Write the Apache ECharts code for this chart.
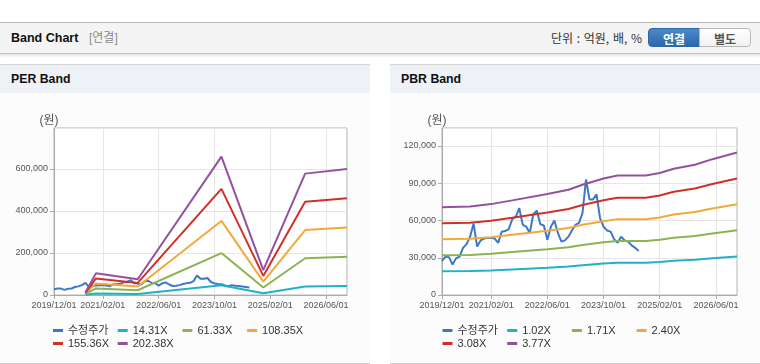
<!DOCTYPE html>
<html>
<head>
<meta charset="utf-8">
<script src="https://cdn.jsdelivr.net/npm/echarts@6/dist/echarts.min.js"></script>
<style>
  html,body{margin:0;padding:0;}
  body{width:760px;height:364px;position:relative;background:#fff;overflow:hidden;font-family:'Liberation Sans','Noto Sans CJK KR',sans-serif;}
  .abs{position:absolute;}
  #top{left:0;top:22px;width:760px;height:30px;background:#f4f4f4;border-top:1px solid #b9b9b9;border-bottom:1px solid #c2c2c2;box-shadow:0 2px 2px rgba(0,0,0,0.10);}
  .panel{top:64px;width:370px;height:298px;background:#fcfcfc;border-top:1px solid #d6d6d6;border-bottom:1px solid #cfcfcf;}
  .ph{position:absolute;left:0;top:0;width:100%;height:28px;background:#eef2f7;}
  .pt{position:absolute;left:11px;top:0;line-height:28px;font-weight:bold;font-size:12.3px;color:#111;}
  .btn{top:5px;height:19px;line-height:19px;text-align:center;font-size:12px;font-weight:bold;box-sizing:border-box;font-family:'Noto Sans CJK KR',sans-serif;}
  #chart{position:absolute;left:0;top:0;width:760px;height:364px;}
</style>
</head>
<body>
<div id="top" class="abs">
  <span class="abs" style="left:11px;top:0;line-height:30px;font-weight:bold;font-size:12.5px;color:#111;">Band Chart</span>
  <span class="abs" style="left:89px;top:0;line-height:30px;font-size:12px;color:#8a8a8a;">[연결]</span>
  <span class="abs" style="right:118px;top:0;line-height:30px;font-size:12px;color:#333;font-family:'Noto Sans CJK KR',sans-serif;word-spacing:1px;">단위 : 억원, 배, %</span>
  <div class="abs btn" style="left:648px;width:52px;color:#fff;background:linear-gradient(#4a89c9,#2d69ad);border:1px solid #2d66a6;border-radius:4px 0 0 4px;">연결</div>
  <div class="abs btn" style="left:699px;width:52px;color:#555;background:linear-gradient(#ffffff,#f1f1f1);border:1px solid #b8b8b8;border-radius:0 4px 4px 0;">별도</div>
</div>
<div class="abs panel" style="left:0;"><div class="ph"><span class="pt">PER Band</span></div></div>
<div class="abs panel" style="left:390px;"><div class="ph"><span class="pt">PBR Band</span></div></div>
<div id="chart"></div>
<script>
// ---- data ----
const months = [
  "2019/12/01",
  "2020/01/01","2020/02/01","2020/03/01","2020/04/01","2020/05/01","2020/06/01","2020/07/01","2020/08/01","2020/09/01","2020/10/01","2020/11/01","2020/12/01",
  "2021/01/01","2021/02/01","2021/03/01","2021/04/01","2021/05/01","2021/06/01","2021/07/01","2021/08/01","2021/09/01","2021/10/01","2021/11/01","2021/12/01",
  "2022/01/01","2022/02/01","2022/03/01","2022/04/01","2022/05/01","2022/06/01","2022/07/01","2022/08/01","2022/09/01","2022/10/01","2022/11/01","2022/12/01",
  "2023/01/01","2023/02/01","2023/03/01","2023/04/01","2023/05/01","2023/06/01","2023/07/01","2023/08/01","2023/09/01","2023/10/01","2023/11/01","2023/12/01",
  "2024/01/01","2024/02/01","2024/03/01","2024/04/01","2024/05/01","2024/06/01","2024/07/01","2024/08/01","2024/09/01","2024/10/01","2024/11/01","2024/12/01",
  "2025/01/01","2025/02/01","2025/03/01","2025/04/01","2025/05/01","2025/06/01","2025/07/01","2025/08/01","2025/09/01","2025/10/01","2025/11/01","2025/12/01",
  "2026/01/01","2026/02/01","2026/03/01","2026/04/01","2026/05/01","2026/06/01","2026/07/01","2026/08/01","2026/09/01","2026/10/01","2026/11/01","2026/12/01"
];
const tickLabels = ["2019/12/01","2021/02/01","2022/06/01","2023/10/01","2025/02/01","2026/06/01"];

// 수정주가 (monthly, 2019/12 ~ 2024/08)
const price = [
  27500,31000,30500,24500,29500,31000,38000,41000,47000,57500,
  39000,44000,45500,46000,46000,45500,42000,51000,51500,53000,
  61000,63000,70000,56500,55000,50000,65000,68000,57000,56000,
  44500,55000,60000,50000,43000,44000,47000,52000,56500,58000,
  66000,93000,77000,77000,81000,62000,55000,52000,51000,45000,
  42000,47000,44000,43000,40000,38000,35500
];

// PER band
const perDates = ["2020/09/01","2020/12/01","2021/12/01","2023/12/01","2024/12/01","2025/12/01","2026/12/01"];
const perNames = ["14.31X","61.33X","108.35X","155.36X","202.38X"];
const per1 = [860, 7280, 5290, 46600, 8370, 40900, 42400];
const per2 = [3680, 31200, 22700, 199600, 35900, 175100, 181800];
const per3 = [6500, 55200, 40100, 352600, 63400, 309300, 321300];
const per4 = [9300, 79100, 57500, 505500, 90900, 443500, 460600];
const per5 = [12100, 103000, 74900, 658500, 118400, 577800, 600100];

// PBR band
const pbrDates = ["2019/12/01","2020/08/01","2021/02/01","2021/08/01","2022/06/01","2022/12/01","2023/04/01","2023/10/01","2024/02/01","2024/10/01","2025/02/01","2025/06/01","2025/12/01","2026/05/01","2026/12/01"];
const pbrNames = ["1.02X","1.71X","2.40X","3.08X","3.77X"];
const pbr1 = [19100,19300,19800,20600,22000,22900,24000,25300,26000,26000,26600,27500,28400,29600,31100];
const pbr2 = [32000,32300,33200,34600,36900,38500,40300,42400,43500,43500,44500,46100,47600,49600,52100];
const pbr3 = [45000,45400,46600,48500,51700,54000,56500,59400,61100,61100,62500,64800,66800,69600,73100];
const pbr4 = [57700,58200,59800,62200,66400,69300,72500,76300,78400,78400,80200,83100,85700,89400,93800];
const pbr5 = [70600,71300,73200,76200,81300,84800,88800,93800,96300,96300,98200,101700,104900,109400,114800];

// ---- chart ----
const colors = ["#3b78c8","#1fb1c7","#8cb352","#f3a93a","#cf3128","#94519e"];
const FONT = "'Liberation Sans','Noto Sans CJK KR',sans-serif";
const showTick = (idx, val) => tickLabels.indexOf(val) >= 0;
const fmt = v => v.toLocaleString('en-US');

function pairs(dates, vals){ return dates.map((d,k)=>[d, vals[k]]); }
function line(name, data, color, gi){
  return {type:'line', name, data, xAxisIndex:gi, yAxisIndex:gi, symbol:'none', showSymbol:false,
    connectNulls:true, lineStyle:{width:2,color}, itemStyle:{color}, emphasis:{disabled:true}, silent:true};
}
function xAxis(gi){
  return {type:'category', gridIndex:gi, data:months, boundaryGap:false,
    axisLine:{lineStyle:{color:'#aaaaaa'}},
    axisTick:{show:true, interval:showTick, length:4, lineStyle:{color:'#aaaaaa'}},
    axisLabel:{interval:showTick, color:'#555', fontSize:9, margin:6, fontFamily:FONT},
    splitLine:{show:true, interval:showTick, lineStyle:{color:'#e6e6e6'}}};
}
function yAxis(gi, max, interval){
  return {type:'value', gridIndex:gi, min:0, max, interval,
    name:'(원)', nameLocation:'end', nameGap:1,
    nameTextStyle:{color:'#555', fontSize:12, fontFamily:FONT, padding:[0,10,0,0]},
    axisLine:{show:true, lineStyle:{color:'#aaaaaa'}},
    axisTick:{show:true, length:4, lineStyle:{color:'#aaaaaa'}},
    axisLabel:{showMaxLabel:false, color:'#555', fontSize:9, margin:6, fontFamily:FONT, formatter:fmt},
    splitLine:{show:true, lineStyle:{color:'#e6e6e6'}}};
}
// one legend per item so items sit in fixed columns
function legendGrid(names, left0){
  const out = [];
  names.forEach((n, k) => {
    const col = k % 4, row = Math.floor(k / 4);
    out.push({data:[n], left:left0 + col * 64.7, top:325 + row * 13, padding:0,
      itemWidth:10, itemHeight:3, icon:'rect', selectedMode:false,
      textStyle:{color:'#333', fontSize:11, fontFamily:FONT}});
  });
  return out;
}

const chart = echarts.init(document.getElementById('chart'), null, {renderer:'canvas'});
chart.setOption({
  animation:false,
  textStyle:{fontFamily:FONT},
  grid:[
    {left:54, top:128, width:293, height:167, show:true, borderColor:'#b4b4b4', borderWidth:1, backgroundColor:'#ffffff'},
    {left:442, top:128, width:295, height:167, show:true, borderColor:'#b4b4b4', borderWidth:1, backgroundColor:'#ffffff'}
  ],
  xAxis:[xAxis(0), xAxis(1)],
  yAxis:[yAxis(0, 795000, 200000), yAxis(1, 134500, 30000)],
  legend: legendGrid(['수정주가'].concat(perNames), 53).concat(legendGrid(['수정주가'].concat(pbrNames), 442.5)),
  series:[
    line('수정주가', price, colors[0], 0),
    line(perNames[0], pairs(perDates, per1), colors[1], 0),
    line(perNames[1], pairs(perDates, per2), colors[2], 0),
    line(perNames[2], pairs(perDates, per3), colors[3], 0),
    line(perNames[3], pairs(perDates, per4), colors[4], 0),
    line(perNames[4], pairs(perDates, per5), colors[5], 0),
    line('수정주가', price, colors[0], 1),
    line(pbrNames[0], pairs(pbrDates, pbr1), colors[1], 1),
    line(pbrNames[1], pairs(pbrDates, pbr2), colors[2], 1),
    line(pbrNames[2], pairs(pbrDates, pbr3), colors[3], 1),
    line(pbrNames[3], pairs(pbrDates, pbr4), colors[4], 1),
    line(pbrNames[4], pairs(pbrDates, pbr5), colors[5], 1)
  ]
});
</script>
</body>
</html>
